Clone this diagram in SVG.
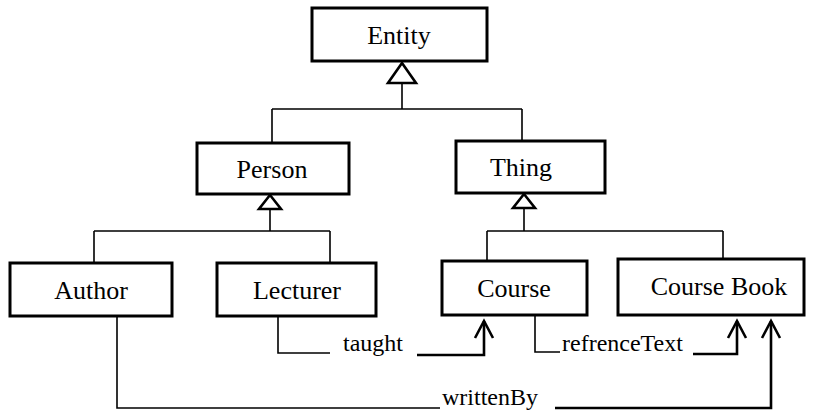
<svg xmlns="http://www.w3.org/2000/svg" width="813" height="413" viewBox="0 0 813 413">
  <style>
    .box { fill: #fff; stroke: #000; stroke-width: 3; }
    text { font-family: 'Liberation Serif', 'Times New Roman', serif; fill: #000; }
    .name { font-size: 26px; text-anchor: middle; }
    .label { font-size: 24px; }
    .line { fill: none; stroke: #000; stroke-width: 1.6; }
    .tri { fill: #fff; stroke: #000; stroke-width: 2.6; stroke-linejoin: miter; }
    .head { fill: none; stroke: #000; stroke-width: 2.6; stroke-linejoin: miter; }
  </style>
  <rect width="813" height="413" fill="#fff"/>

  <!-- connectors -->
  <g id="connectors">
    <!-- generalisation: Entity -->
    <path class="line" d="M402 83 V109 M272 109 H522 M272 109 V143 M522 109 V141"/>
    <polygon class="tri" points="402,63 388,83 416,83"/>
    <!-- generalisation: Person -->
    <path class="line" d="M270 209 V231 M94 231 H330 M94 231 V263 M330 231 V263"/>
    <polygon class="tri" points="270,195 259,209 281,209"/>
    <!-- generalisation: Thing -->
    <path class="line" d="M524 208 V231 M487 231 H723 M487 231 V261 M723 231 V259"/>
    <polygon class="tri" points="524,194 513,208 535,208"/>

    <!-- taught: Lecturer -> Course -->
    <path class="line" d="M278 317 V353 H330"/>
    <text class="label" x="343" y="351">taught</text>
    <path class="head" d="M417 355 H484 V321"/>
    <path class="head" d="M475 338 L484 321 L493 338"/>

    <!-- refrenceText: Course -> Course Book -->
    <path class="line" d="M535 315 V352 H560"/>
    <text class="label" x="562" y="351">refrenceText</text>
    <path class="head" d="M693 354 H737 V321"/>
    <path class="head" d="M728 338 L737 321 L746 338"/>

    <!-- writtenBy: Author -> Course Book -->
    <path class="line" d="M117 317 V408 H440"/>
    <text class="label" x="442" y="405">writtenBy</text>
    <path class="head" d="M555 408 H771 V321"/>
    <path class="head" d="M762 338 L771 321 L780 338"/>
  </g>

  <!-- nodes -->
  <g id="entity">
    <rect class="box" x="312" y="8" width="175" height="53"/>
    <text class="name" x="399" y="44">Entity</text>
  </g>
  <g id="person">
    <rect class="box" x="197" y="143" width="152" height="51"/>
    <text class="name" x="272" y="178">Person</text>
  </g>
  <g id="thing">
    <rect class="box" x="456" y="141" width="149" height="52"/>
    <text class="name" x="521" y="176">Thing</text>
  </g>
  <g id="author">
    <rect class="box" x="10" y="263" width="162" height="53"/>
    <text class="name" x="91" y="299">Author</text>
  </g>
  <g id="lecturer">
    <rect class="box" x="217" y="263" width="159" height="53"/>
    <text class="name" x="297" y="299">Lecturer</text>
  </g>
  <g id="course">
    <rect class="box" x="442" y="261" width="145" height="54"/>
    <text class="name" x="514" y="297">Course</text>
  </g>
  <g id="course-book">
    <rect class="box" x="618" y="259" width="186" height="56"/>
    <text class="name" x="719" y="295">Course Book</text>
  </g>
</svg>
